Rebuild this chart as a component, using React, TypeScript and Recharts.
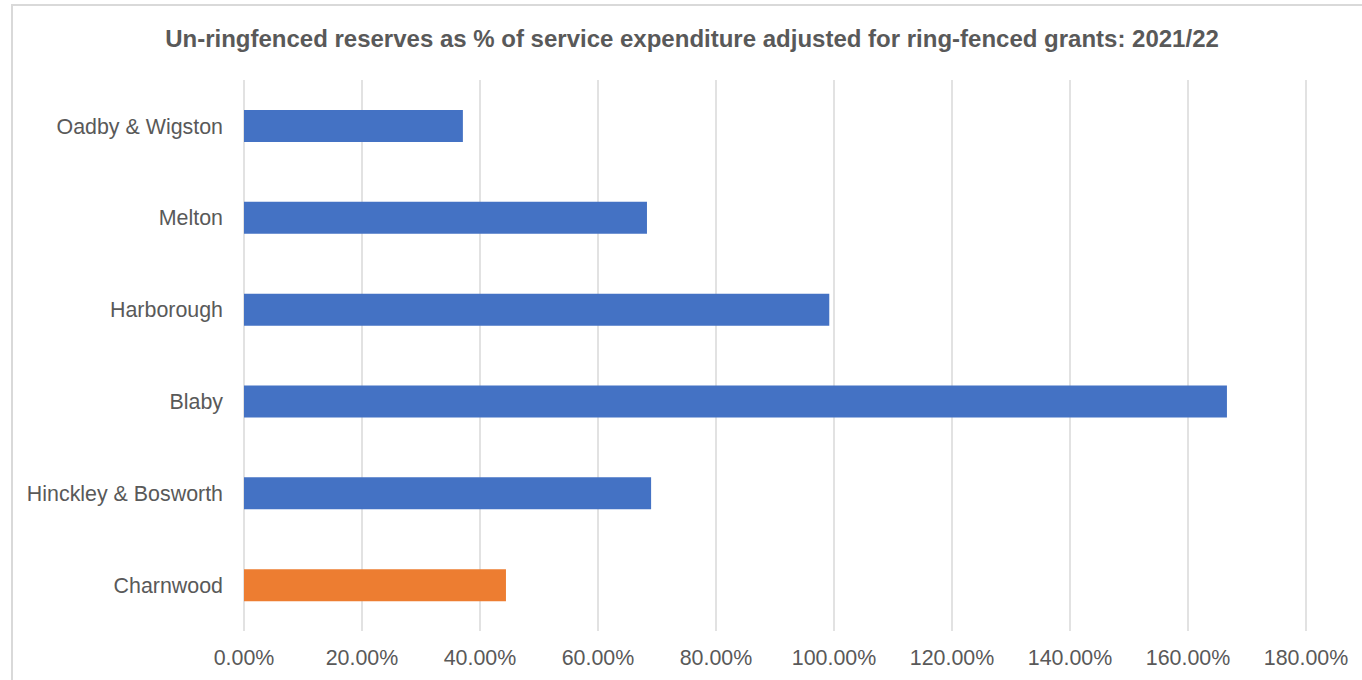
import { Bar, BarChart, CartesianGrid, Cell, XAxis, YAxis } from "recharts";

// districts top to bottom, as they appear on the chart
const districts = [
  "Oadby & Wigston",
  "Melton",
  "Harborough",
  "Blaby",
  "Hinckley & Bosworth",
  "Charnwood",
];

// un-ringfenced reserves as share of adjusted service expenditure
const reserveShare = [0.371, 0.683, 0.992, 1.666, 0.69, 0.444];

const highlighted = ["Charnwood"];

const xTicks = [0, 0.2, 0.4, 0.6, 0.8, 1.0, 1.2, 1.4, 1.6, 1.8];

const BLUE = "#4472C4";
const ORANGE = "#ED7D31";
const TEXT = "#595959";
const FONT = "'Liberation Sans', Arial, sans-serif";

const chartData = districts.map((name, i) => ({
  name,
  value: reserveShare[i],
}));

export default function App() {
  return (
    <div
      style={{
        position: "absolute",
        left: 0,
        top: 0,
        width: 1362,
        height: 680,
        background: "#fff",
        overflow: "hidden",
        fontFamily: FONT,
      }}
    >
      {/* chart frame */}
      <div
        style={{
          position: "absolute",
          left: 11,
          top: 4,
          width: 1400,
          height: 720,
          border: "2px solid #d9d9d9",
          boxSizing: "border-box",
        }}
      />
      <div
        style={{
          position: "absolute",
          left: 11,
          top: 25,
          width: 1362,
          height: 28,
          lineHeight: "28px",
          textAlign: "center",
          fontSize: 24,
          fontWeight: "bold",
          color: TEXT,
          whiteSpace: "nowrap",
        }}
      >
        Un-ringfenced reserves as % of service expenditure adjusted for ring-fenced grants: 2021/22
      </div>
      <div style={{ position: "absolute", left: 0, top: 0 }}>
        <BarChart
          width={1362}
          height={680}
          data={chartData}
          layout="vertical"
          margin={{ top: 80, right: 56, bottom: 0, left: 0 }}
          barSize={32}
        >
          <CartesianGrid horizontal={false} stroke="#d9d9d9" strokeWidth={1.5} />
          <XAxis
            type="number"
            domain={[0, 1.8]}
            ticks={xTicks}
            interval={0}
            height={49}
            axisLine={false}
            tickLine={false}
            tickMargin={13}
            tick={{ fill: TEXT, fontSize: 21.4, fontFamily: FONT }}
            tickFormatter={(v: number) => `${(v * 100).toFixed(2)}%`}
          />
          <YAxis
            type="category"
            dataKey="name"
            width={244}
            axisLine={false}
            tickLine={false}
            tickMargin={15}
            tick={{ fill: TEXT, fontSize: 21.4, fontFamily: FONT }}
          />
          <Bar dataKey="value" isAnimationActive={false}>
            {chartData.map((d) => (
              <Cell key={d.name} fill={highlighted.includes(d.name) ? ORANGE : BLUE} />
            ))}
          </Bar>
        </BarChart>
      </div>
    </div>
  );
}
